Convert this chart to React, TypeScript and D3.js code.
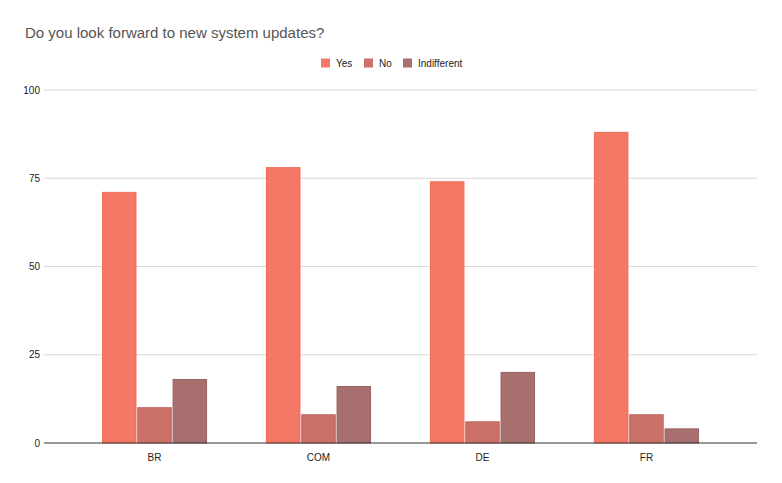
import React from "react";
import * as d3 from "d3";

const categories = ["BR", "COM", "DE", "FR"];
const seriesNames = ["Yes", "No", "Indifferent"];
const yesValues = [71, 78, 74, 88];
const noValues = [10, 8, 6, 8];
const indifferentValues = [18, 16, 20, 4];
const yTicks = [0, 25, 50, 75, 100];

const colors = ["#f57866", "#cc7168", "#a86f6f"];
const strokes = ["#ef6b59", "#c2655d", "#9a6262"];

const W = 782, H = 483;
const left = 44, right = 757, top = 90, bottom = 443;

export default function App() {
  const series = [yesValues, noValues, indifferentValues];
  const x = d3.scaleBand<string>().domain(categories).range([left, right]).paddingInner(0).paddingOuter(0.174);
  const y = d3.scaleLinear().domain([0, 100]).range([bottom, top]);
  const barW = 33.5, gap = 1.8;
  const groupW = barW * 3 + gap * 2;
  const font = "'Liberation Sans', Arial, sans-serif";
  const legendX = [321, 364, 403];
  return (
    <svg width={W} height={H} style={{ position: "absolute", left: 0, top: 0, background: "#fff" }} fontFamily={font}>
      <rect width={W} height={H} fill="#fff" />
      <text x={25} y={38} fontSize={15} fill="#555">Do you look forward to new system updates?</text>
      {seriesNames.map((s, i) => (
        <g key={s}>
          <rect x={legendX[i]} y={58.5} width={9} height={9} fill={colors[i]} />
          <text x={legendX[i] + 15} y={66.5} fontSize={10} fill="#222">{s}</text>
        </g>
      ))}
      {yTicks.map((t) => (
        <g key={t}>
          {t !== 0 && <line x1={left} x2={right} y1={y(t)} y2={y(t)} stroke="#d9d9d9" strokeWidth={1} />}
          <text x={40} y={y(t) + 3.5} fontSize={10} fill="#222" textAnchor="end">{t}</text>
        </g>
      ))}
      {categories.map((c, ci) => {
        const cx = (x(c) as number) + x.bandwidth() / 2;
        const x0 = cx - groupW / 2;
        return (
          <g key={c}>
            {series.map((vals, si) => (
              <rect key={si} x={x0 + si * (barW + gap)} y={y(vals[ci])} width={barW} height={bottom - y(vals[ci])}
                fill={colors[si]} stroke={strokes[si]} strokeWidth={1} />
            ))}
            <text x={cx} y={461} fontSize={10} fill="#222" textAnchor="middle">{c}</text>
          </g>
        );
      })}
      <line x1={left} x2={right} y1={bottom} y2={bottom} stroke="#333" strokeWidth={1} />
    </svg>
  );
}
